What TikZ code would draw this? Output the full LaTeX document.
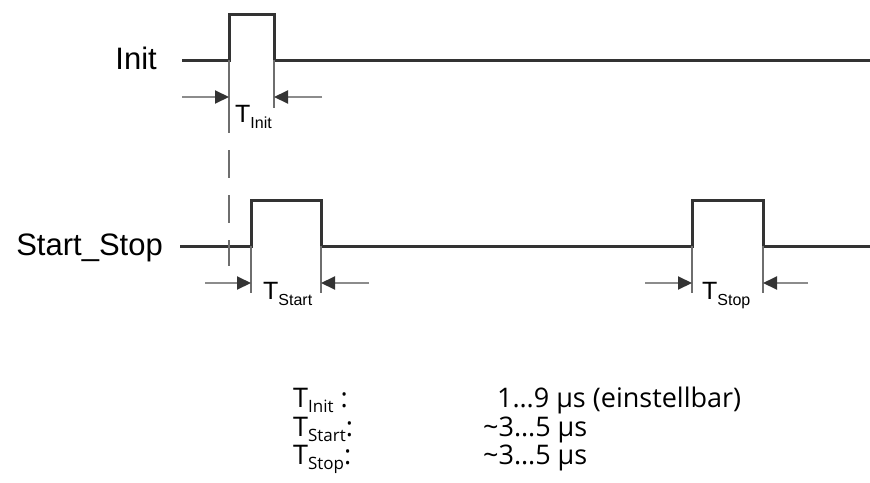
\documentclass[tikz,border=0pt]{standalone}
\usepackage{fontspec}
\setmainfont{Liberation Sans}
\newfontfamily\tabfont{Open Sans}
\usetikzlibrary{arrows.meta}
\definecolor{wire}{HTML}{333333}
\definecolor{ext}{HTML}{6E6E6E}
\definecolor{shaft}{HTML}{8C8C8C}
\tikzset{
  wave/.style={draw=wire, line width=3pt, line join=miter},
  extline/.style={draw=ext, line width=1.6pt},
  dimarrow/.style={draw=shaft, line width=2pt, -{Triangle[length=14pt,width=13pt,color=wire]}},
  siglabel/.style={anchor=base east, inner sep=0pt, font=\fontsize{31}{31}\selectfont},
  tlabel/.style={anchor=north west, inner sep=0pt, font=\fontsize{25}{25}\selectfont},
  tabtext/.style={anchor=base west, inner sep=0pt, font=\tabfont\fontsize{27}{27}\selectfont}
}
\newcommand{\Tsub}[1]{T\raisebox{-6pt}{\fontsize{16}{16}\selectfont #1}}
\newcommand{\Tsubb}[1]{T\raisebox{-5pt}{\fontsize{17}{17}\selectfont #1}}
\begin{document}
\begin{tikzpicture}[x=1pt,y=-1pt]
\useasboundingbox (0,0) rectangle (870,482);
% Init signal
\coordinate (i0) at (182,60);
\coordinate (i1) at (229,60);
\coordinate (i2) at (229,14);
\coordinate (i3) at (274,14);
\coordinate (i4) at (274,60);
\coordinate (i5) at (870,60);
\draw[wave] (i0) -- (i1) -- (i2) -- (i3) -- (i4) -- (i5);
\node[siglabel] (initlbl) at (157,69) {Init};
% Start_Stop signal
\coordinate (s0) at (180,246);
\coordinate (s1) at (251,246);
\coordinate (s2) at (251,200);
\coordinate (s3) at (321,200);
\coordinate (s4) at (321,246);
\coordinate (s5) at (692,246);
\coordinate (s6) at (692,200);
\coordinate (s7) at (763,200);
\coordinate (s8) at (763,246);
\coordinate (s9) at (870,246);
\draw[wave] (s0) -- (s1) -- (s2) -- (s3) -- (s4) -- (s5) -- (s6) -- (s7) -- (s8) -- (s9);
\node[siglabel] (sslbl) at (163,255) {Start\_Stop};
% Init extension lines
\coordinate (ie1) at (229,133);
\coordinate (ie2) at (274,108);
\draw[extline] (i1) -- (ie1);
\draw[extline] (i4) -- (ie2);
\coordinate (d0) at (229,150);
\coordinate (d1) at (229,266);
\draw[extline, dash pattern=on 28pt off 17pt] (d0) -- (d1);
% Start / Stop extension lines
\coordinate (se1) at (251,293);
\coordinate (se4) at (321,293);
\coordinate (se5) at (692,293);
\coordinate (se8) at (763,293);
\draw[extline] (s1) -- (se1);
\draw[extline] (s4) -- (se4);
\draw[extline] (s5) -- (se5);
\draw[extline] (s8) -- (se8);
% dimension arrows
\coordinate (ai0) at (182,97);  \coordinate (ai1) at (229,97);
\coordinate (ai2) at (322,97);  \coordinate (ai3) at (274,97);
\draw[dimarrow] (ai0) -- (ai1);
\draw[dimarrow] (ai2) -- (ai3);
\coordinate (as0) at (205,283); \coordinate (as1) at (251,283);
\coordinate (as2) at (369,283); \coordinate (as3) at (321,283);
\draw[dimarrow] (as0) -- (as1);
\draw[dimarrow] (as2) -- (as3);
\coordinate (ap0) at (645,283); \coordinate (ap1) at (692,283);
\coordinate (ap2) at (808,283); \coordinate (ap3) at (763,283);
\draw[dimarrow] (ap0) -- (ap1);
\draw[dimarrow] (ap2) -- (ap3);
% T labels
\node[tlabel] (tinit) at (235,105) {\Tsub{Init}};
\node[tlabel] (tstart) at (263,282) {\Tsub{Start}};
\node[tlabel] (tstop) at (702,282) {\Tsub{Stop}};
% table
\node[tabtext] (r1a) at (293,407) {\Tsubb{Init} :};
\node[tabtext] (r2a) at (293,436) {\Tsubb{Start}:};
\node[tabtext] (r3a) at (293,464) {\Tsubb{Stop}:};
\node[tabtext] (r1b) at (497,407) {1…9 µs (einstellbar)};
\node[tabtext] (r2b) at (483,436) {\textasciitilde3…5 µs};
\node[tabtext] (r3b) at (483,464) {\textasciitilde3…5 µs};
\end{tikzpicture}
\end{document}
